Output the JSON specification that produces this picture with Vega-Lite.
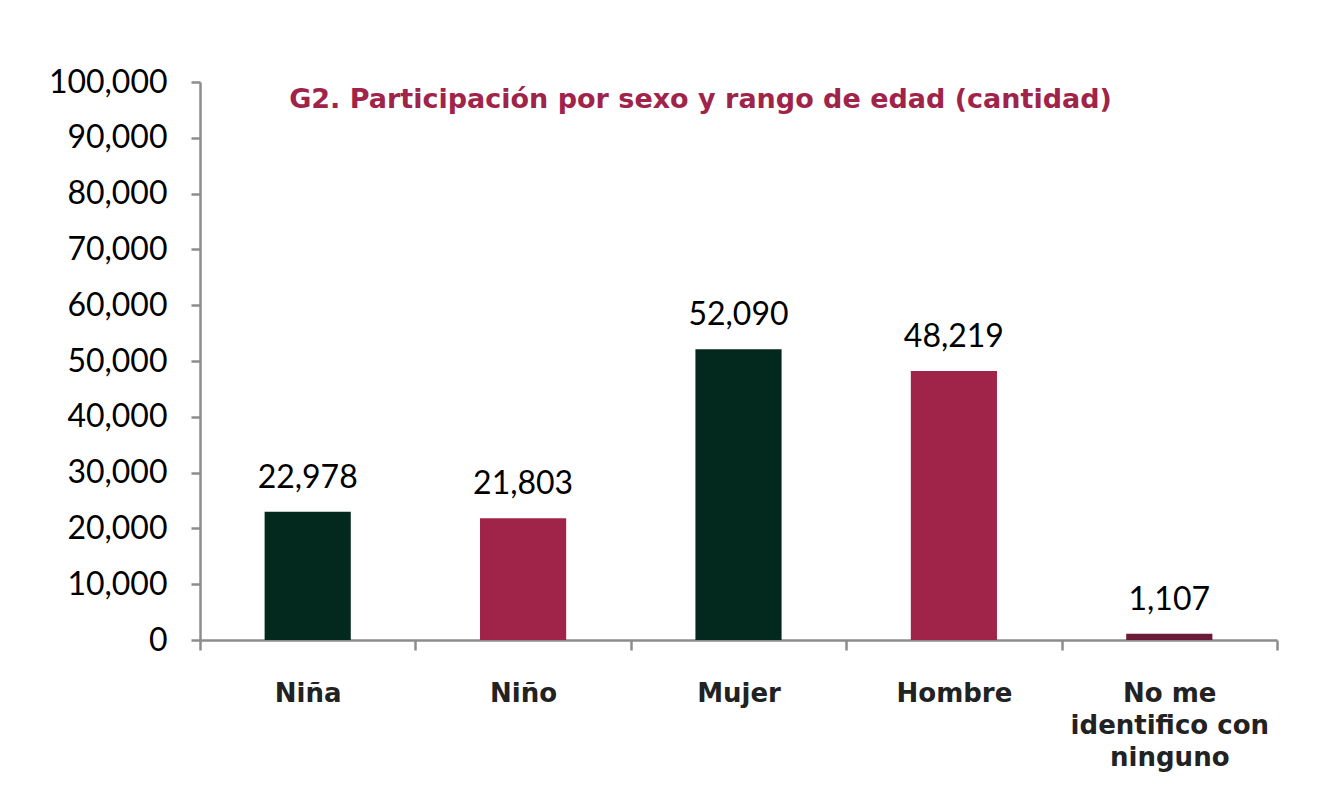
{
  "$schema": "https://vega.github.io/schema/vega-lite/v6.json",
  "width": 1077,
  "height": 558,
  "autosize": {"type": "none"},
  "padding": {"left": 200, "top": 82, "right": 58, "bottom": 161},
  "background": "white",
  "title": {
    "text": "G2. Participación por sexo y rango de edad (cantidad)",
    "font": "DejaVu Sans",
    "fontWeight": "bold",
    "fontSize": 27,
    "color": "#a0244a",
    "anchor": "middle",
    "frame": "group",
    "dx": -38,
    "offset": -48
  },
  "data": {
    "values": [
      {"sexo": "Niña", "cantidad": 22978},
      {"sexo": "Niño", "cantidad": 21803},
      {"sexo": "Mujer", "cantidad": 52090},
      {"sexo": "Hombre", "cantidad": 48219},
      {"sexo": "No me identifico con ninguno", "cantidad": 1107}
    ]
  },
  "encoding": {
    "x": {
      "field": "sexo",
      "type": "nominal",
      "sort": null,
      "title": null,
      "scale": {"paddingInner": 0, "paddingOuter": 0},
      "axis": {
        "labelAngle": 0,
        "tickBand": "extent",
        "domainColor": "#8c8c8c",
        "domainWidth": 2.5,
        "tickColor": "#8c8c8c",
        "tickWidth": 2.5,
        "tickSize": 10,
        "labelFont": "DejaVu Sans",
        "labelFontWeight": "bold",
        "labelFontSize": 26,
        "labelColor": "#222222",
        "labelPadding": 30,
        "labelLineHeight": 32,
        "labelLimit": 0,
        "labelExpr": "datum.value == 'No me identifico con ninguno' ? ['No me', 'identifico con', 'ninguno'] : datum.value"
      }
    },
    "y": {
      "field": "cantidad",
      "type": "quantitative",
      "title": null,
      "scale": {"domain": [0, 100000], "nice": false},
      "axis": {
        "values": [0, 10000, 20000, 30000, 40000, 50000, 60000, 70000, 80000, 90000, 100000],
        "format": ",d",
        "grid": false,
        "domainColor": "#8c8c8c",
        "domainWidth": 2.5,
        "tickColor": "#8c8c8c",
        "tickWidth": 2.5,
        "tickSize": 9,
        "labelFont": "Lato",
        "labelFontSize": 32,
        "labelColor": "#000000",
        "labelPadding": 24
      }
    }
  },
  "layer": [
    {
      "mark": {"type": "bar", "width": {"band": 0.4}},
      "encoding": {
        "color": {
          "field": "sexo",
          "type": "nominal",
          "legend": null,
          "scale": {
            "domain": ["Niña", "Niño", "Mujer", "Hombre", "No me identifico con ninguno"],
            "range": ["#03291e", "#a0244a", "#03291e", "#a0244a", "#6b1a37"]
          }
        }
      }
    },
    {
      "mark": {"type": "text", "baseline": "alphabetic", "dy": -24, "font": "Lato", "fontSize": 32, "color": "#000000"},
      "encoding": {
        "text": {"field": "cantidad", "type": "quantitative", "format": ","}
      }
    }
  ],
  "config": {
    "view": {"stroke": null}
  }
}
